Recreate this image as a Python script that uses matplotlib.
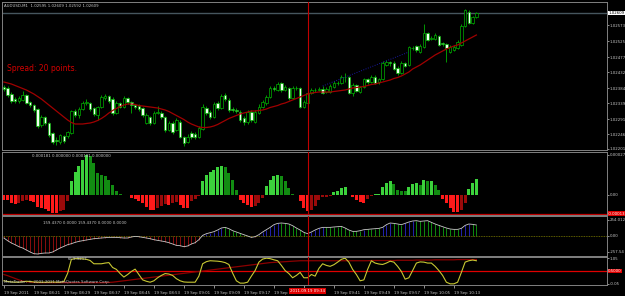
import numpy as np
import matplotlib
matplotlib.use("Agg")
import matplotlib.pyplot as plt

W, H = 625, 296

# price data, in points above 1.02000 (1 point = 0.00001)
open_pts = [387, 384, 366, 351, 345, 348, 363, 342, 333, 321,
            273, 297, 279, 249, 228, 222, 240, 240, 249, 315,
            303, 321, 339, 339, 324, 303, 327, 354, 360, 351,
            309, 339, 327, 354, 342, 333, 330, 324, 279, 297,
            279, 309, 309, 297, 258, 279, 258, 282, 237, 222,
            249, 246, 237, 261, 324, 312, 297, 339, 324, 363,
            348, 321, 318, 312, 294, 282, 312, 282, 309, 327,
            339, 357, 384, 378, 399, 378, 384, 354, 384, 384,
            327, 339, 369, 378, 378, 381, 372, 372, 387, 399,
            399, 417, 417, 369, 393, 372, 387, 411, 402, 417,
            402, 411, 453, 462, 459, 444, 429, 459, 453, 504,
            510, 492, 507, 549, 531, 531, 540, 519, 516, 492,
            498, 504, 513, 570, 612, 579, 597]
close_pts = [381, 363, 345, 345, 354, 363, 339, 333, 318, 270,
             297, 279, 243, 222, 225, 243, 225, 252, 315, 303,
             321, 339, 342, 321, 306, 327, 357, 360, 345, 309,
             339, 327, 354, 342, 333, 327, 321, 303, 303, 279,
             309, 312, 297, 258, 279, 252, 288, 237, 219, 237,
             237, 237, 264, 327, 309, 297, 336, 324, 360, 351,
             318, 318, 315, 288, 282, 312, 288, 312, 327, 342,
             357, 384, 381, 396, 378, 387, 354, 384, 384, 327,
             342, 369, 378, 378, 381, 369, 381, 390, 399, 399,
             417, 417, 369, 393, 375, 387, 411, 402, 417, 399,
             411, 459, 462, 459, 441, 429, 459, 450, 507, 504,
             498, 510, 549, 528, 534, 543, 513, 516, 504, 507,
             507, 522, 570, 618, 579, 597, 609]
high_pts = [393, 390, 372, 357, 360, 375, 366, 345, 336, 324,
            303, 300, 282, 252, 237, 246, 243, 255, 318, 321,
            327, 345, 351, 342, 327, 330, 363, 366, 363, 357,
            345, 342, 360, 357, 345, 336, 336, 327, 309, 300,
            315, 330, 315, 300, 285, 285, 294, 288, 240, 246,
            255, 252, 270, 336, 330, 318, 342, 345, 366, 369,
            354, 327, 324, 318, 300, 318, 318, 318, 336, 348,
            363, 390, 390, 402, 402, 393, 387, 390, 390, 387,
            348, 375, 384, 384, 387, 390, 387, 396, 405, 405,
            423, 429, 420, 399, 396, 390, 414, 414, 423, 423,
            414, 465, 468, 465, 465, 450, 465, 462, 510, 510,
            513, 516, 576, 552, 540, 549, 543, 522, 519, 513,
            513, 528, 576, 621, 618, 600, 612]
low_pts = [375, 357, 339, 339, 339, 345, 336, 327, 312, 264,
           267, 273, 237, 216, 213, 216, 219, 234, 246, 297,
           294, 318, 333, 315, 300, 288, 324, 348, 339, 303,
           306, 324, 324, 336, 309, 321, 315, 297, 276, 273,
           276, 306, 291, 252, 255, 246, 255, 234, 210, 219,
           231, 231, 234, 258, 303, 291, 294, 318, 321, 345,
           312, 312, 309, 282, 273, 276, 282, 279, 306, 324,
           333, 354, 375, 375, 372, 375, 348, 351, 378, 324,
           324, 336, 366, 372, 375, 366, 369, 369, 384, 393,
           396, 402, 366, 360, 372, 369, 384, 396, 399, 396,
           396, 408, 450, 450, 438, 423, 426, 447, 450, 498,
           492, 489, 504, 525, 528, 528, 510, 510, 462, 489,
           495, 501, 510, 567, 576, 576, 594]
ma_pts = [402, 399, 396, 391.5, 387, 382.5, 378, 372, 366, 358.5,
          351, 342, 333, 324, 315, 306, 297, 288, 280.5, 276,
          276, 276, 277.5, 279, 282, 286.5, 292.5, 300, 309, 316.5,
          322.5, 328.5, 333, 336, 336, 334.5, 331.5, 330, 328.5, 327,
          325.5, 324, 321, 318, 313.5, 307.5, 301.5, 295.5, 289.5, 282,
          276, 271.5, 267, 265.5, 265.5, 267, 270, 274.5, 280.5, 286.5,
          292.5, 297, 301.5, 306, 309, 312, 315, 315, 316.5, 318,
          321, 325.5, 328.5, 331.5, 336, 339, 343.5, 348, 352.5, 357,
          361.5, 366, 369, 370.5, 372, 372, 372, 372, 373.5, 375,
          376.5, 378, 381, 384, 385.5, 387, 388.5, 391.5, 394.5, 396,
          399, 402, 405, 408, 412.5, 415.5, 420, 426, 432, 441,
          447, 453, 460.5, 468, 475.5, 483, 489, 495, 501, 505.5,
          510, 513, 519, 525, 531, 537, 543]

# histogram indicator, in units of 0.000001
hist_vals = [-34, -39, -57, -64, -57, -41, -34, -41, -50, -86,
             -91, -98, -109, -125, -125, -113, -102, -45, 91, 154,
             193, 238, 272, 261, 216, 148, 136, 125, 102, 68,
             27, 5, -5, -2, -23, -27, -41, -57, -86, -102,
             -102, -91, -79, -64, -68, -57, -50, -73, -91, -91,
             -45, -27, -7, 91, 136, 154, 168, 188, 193, 188,
             148, 102, 34, -34, -57, -73, -86, -79, -57, -23,
             57, 98, 125, 136, 125, 91, 45, 5, -4, -45,
             -91, -113, -102, -75, -34, -18, -14, -11, 16, 27,
             45, 50, -2, -18, -39, -50, -57, -30, -11, 5,
             7, 50, 82, 91, 73, 34, 27, 23, 50, 73,
             79, 68, 98, 91, 91, 64, 34, -27, -57, -91,
             -120, -120, -102, -57, 41, 79, 107]

osc_vals = [-37, -80, -117, -144, -176, -197, -229, -261, -288, -293,
            -283, -277, -277, -261, -229, -197, -171, -144, -128, -107,
            -91, -80, -69, -59, -48, -43, -37, -32, -27, -27,
            -27, -32, -37, -37, -21, -11, -16, -27, -37, -48,
            -64, -75, -85, -96, -112, -133, -155, -160, -176, -165,
            -133, -112, -64, 5, 32, 48, 64, 91, 123, 133,
            112, 80, 59, 37, 16, -5, -27, -16, 16, 59,
            96, 133, 176, 197, 203, 197, 187, 160, 123, 91,
            53, 32, 59, 91, 117, 133, 133, 133, 139, 144,
            149, 123, 91, 69, 69, 80, 96, 101, 107, 112,
            117, 133, 176, 203, 197, 187, 176, 197, 219, 235,
            240, 229, 235, 240, 213, 187, 165, 144, 123, 107,
            101, 101, 117, 165, 187, 181, 171]

stoch_main = [0.08, 0.05, 0.03, 0.02, 0.02, 0.04, 0.06, 0.05, 0.03, 0.02,
              0.02, 0.02, 0.02, 0.03, 0.02, 0.02, 0.05, 0.40, 1.00, 1.03,
              1.03, 1.02, 1.00, 0.95, 0.81, 0.81, 0.81, 0.84, 0.86, 0.65,
              0.57, 0.39, 0.24, 0.35, 0.48, 0.58, 0.35, 0.12, 0.06, 0.02,
              0.08, 0.21, 0.31, 0.39, 0.37, 0.31, 0.17, 0.08, 0.03, 0.02,
              0.02, 0.02, 0.28, 0.81, 0.90, 0.94, 0.93, 0.92, 0.90, 0.86,
              0.78, 0.41, 0.08, -0.02, -0.02, 0.02, 0.28, 0.52, 0.88, 1.01,
              1.05, 1.03, 0.98, 0.94, 0.74, 0.52, 0.39, 0.21, 0.31, 0.44,
              0.21, 0.21, 0.35, 0.28, 0.61, 0.81, 0.74, 0.70, 0.77, 0.88,
              1.00, 1.05, 0.88, 0.57, 0.35, 0.08, 0.12, 0.57, 0.94, 0.84,
              0.80, 0.78, 0.84, 0.92, 0.88, 0.70, 0.48, 0.15, 0.21, 0.52,
              0.84, 0.89, 0.88, 0.84, 0.84, 0.70, 0.52, 0.31, 0.02, -0.05,
              -0.05, 0.02, 0.44, 0.88, 0.94, 0.97, 0.94]
stoch_signal = [0.35, 0.30, 0.24, 0.18, 0.12, 0.07, 0.04, 0.02, 0.01, 0.00,
                0.00, 0.00, 0.00, 0.00, 0.00, 0.00, 0.00, 0.00, 0.00, 0.00,
                0.00, 0.00, 0.00, 0.00, 0.00, 0.00, 0.00, 0.00, 0.01, 0.02,
                0.04, 0.06, 0.08, 0.10, 0.12, 0.14, 0.16, 0.18, 0.20, 0.22,
                0.24, 0.26, 0.28, 0.30, 0.32, 0.34, 0.36, 0.38, 0.40, 0.42,
                0.44, 0.46, 0.48, 0.50, 0.52, 0.54, 0.56, 0.58, 0.60, 0.62,
                0.64, 0.66, 0.68, 0.70, 0.72, 0.74, 0.76, 0.78, 0.80, 0.82,
                0.84, 0.86, 0.87, 0.88, 0.89, 0.90, 0.91, 0.92, 0.93, 0.94,
                0.94, 0.94, 0.94, 0.94, 0.94, 0.94, 0.94, 0.94, 0.94, 0.94,
                0.94, 0.94, 0.94, 0.94, 0.94, 0.94, 0.94, 0.94, 0.95, 0.95,
                0.95, 0.95, 0.95, 0.95, 0.95, 0.96, 0.96, 0.96, 0.96, 0.96,
                0.97, 0.97, 0.97, 0.97, 0.97, 0.98, 0.98, 0.98, 0.98, 0.98,
                0.98, 0.99, 0.99, 0.99, 0.99, 0.99, 0.99]

price_ticks = [1.02573, 1.02525, 1.02477, 1.02432, 1.02384,
               1.02339, 1.02291, 1.02246, 1.02201]
last_price = 1.02609
trend_bars = [85, 108]
trend_pts = [390, 492]
# the 09:25 label is mostly hidden behind the cursor box, 09:33 fully
time_labels = ["19 Sep 2011", "19 Sep 08:21", "19 Sep 08:29", "19 Sep 08:37",
               "19 Sep 08:45", "19 Sep 08:53", "19 Sep 09:01", "19 Sep 09:09",
               "19 Sep 09:17", "19 Sep", "", "19 Sep 09:41",
               "19 Sep 09:49", "19 Sep 09:57", "19 Sep 10:05", "19 Sep 10:13"]
cursor_bar = 81
cursor_label = "2011.09.19 09:34"

BG = "#000000"
FRAME = "#808080"
TXT = "#c8c8c8"
GREEN = "#00b000"
FS = 2.8

fig = plt.figure(figsize=(W / 100, H / 100), dpi=100, facecolor=BG)


def px_axes(x0, y0, x1, y1):
    a = fig.add_axes([x0 / W, 1 - y1 / H, (x1 - x0) / W, (y1 - y0) / H])
    a.set_facecolor(BG)
    for s in a.spines.values():
        s.set_color(FRAME)
        s.set_linewidth(0.7)
    a.set_xlim(-0.5, -0.5 + (x1 - x0) / 3.75)
    a.yaxis.tick_right()
    a.tick_params(axis="x", bottom=False, labelbottom=False)
    a.tick_params(axis="y", colors=TXT, labelsize=FS, length=1.2, width=0.5, pad=0.6)
    return a


def right_box(a, y, text, fc, tc):
    a.text(1.002, y, text, transform=a.get_yaxis_transform(), fontsize=FS,
           color=tc, va="center", ha="left",
           bbox=dict(boxstyle="square,pad=0.12", fc=fc, ec="none"))


idx = np.arange(len(open_pts))
o = 1.02 + np.array(open_pts) / 1e5
c = 1.02 + np.array(close_pts) / 1e5
hi = 1.02 + np.array(high_pts) / 1e5
lo = 1.02 + np.array(low_pts) / 1e5
ma = 1.02 + np.array(ma_pts) / 1e5

# ---- main price window ----
ax = px_axes(2, 2, 607, 150)
ax.set_ylim(1.02198, 1.02642)
ax.axhline(last_price, color="#46565e", lw=1.0, zorder=1)
ax.vlines(idx, lo, hi, color=GREEN, lw=0.6, zorder=2)
bear = c < o
ax.bar(idx, np.maximum(np.abs(c - o), 0.000006), bottom=np.minimum(o, c),
       width=0.62, color=np.where(bear, "#f0fff0", "#000000"),
       edgecolor=GREEN, linewidth=0.5, zorder=3)
ax.plot(idx, ma, color="#a00000", lw=0.9, zorder=4)
ax.plot(trend_bars, 1.02 + np.array(trend_pts) / 1e5, color="#1a1aa0",
        lw=0.7, ls=(0, (1, 1.5)), zorder=4)
ax.set_yticks(price_ticks)
ax.set_yticklabels([f"{v:.5f}" for v in price_ticks])
right_box(ax, last_price, f"{last_price:.5f}", "white", "black")
ax.text(0.003, 0.975, "AUDUSD,M1  1.02595 1.02609 1.02592 1.02609",
        transform=ax.transAxes, fontsize=FS, color=TXT, va="center")
ax.text(0.008, 0.55, "Spread: 20 points.", transform=ax.transAxes,
        fontsize=5.5, color="#d40000", va="center")

# ---- histogram window ----
ax2 = px_axes(2, 152, 607, 215)
ax2.set_ylim(-138, 290)
hv = np.array(hist_vals)
prev = np.r_[hv[0], hv[:-1]]
cols = np.where(hv >= 0,
                np.where(hv >= prev, "#3cd23c", "#128c12"),
                np.where(hv <= prev, "#ff1a1a", "#9a0a0a"))
ax2.bar(idx, hv, width=0.85, color=cols, linewidth=0)
ax2.axhline(-129, color="#c00000", lw=0.9)
ax2.set_yticks([272, 0])
ax2.set_yticklabels(["0.00027", "0.00"])
right_box(ax2, -129, "-0.00013", "#e00000", "white")
ax2.text(0.05, 0.93, "0.000181 0.000000 0.000181 0.000000",
         transform=ax2.transAxes, fontsize=FS, color=TXT, va="center")

# ---- oscillator window ----
ax3 = px_axes(2, 216, 607, 256)
ax3.set_ylim(-325, 315)
ov = np.array(osc_vals)
dv = np.r_[0, np.diff(ov)]
ocols = np.where(ov < 0, "#a01010", np.where(dv > 15, "#2828c8", "#10a010"))
ax3.vlines(idx, 0, ov, colors=ocols, lw=0.6)
ax3.axhline(0, color="#808000", lw=0.6, ls=(0, (1, 1)))
ax3.plot(idx, ov, color="#c8c8c8", lw=0.6)
ax3.set_yticks([254.0122, 0, -257.545])
ax3.set_yticklabels(["254.012", "0.00", "-257.54"])
ax3.text(0.068, 0.83, "159.4370 0.0000 159.4370 0.0000 0.0000",
         transform=ax3.transAxes, fontsize=FS, color=TXT, va="center")

# ---- stochastic window ----
ax4 = px_axes(2, 257, 607, 285)
ax4.set_ylim(-0.1, 1.1)
ax4.axhline(0.5, color="#e00000", lw=0.9)
ax4.plot(idx, stoch_signal, color="#8c0000", lw=0.9)
ax4.plot(idx, stoch_main, color="#c8c832", lw=0.8)
ax4.set_yticks([1.05, -0.05])
ax4.set_yticklabels(["1.05", "-0.05"])
right_box(ax4, 0.5, "0.5000", "#e00000", "white")
ax4.text(0.109, 0.93, "65.9.9217", transform=ax4.transAxes, fontsize=FS,
         color=TXT, va="center")
ax4.text(0.003, 0.12, "MetaTrader, \u00a9 2001-2011 MetaQuotes Software Corp.",
         transform=ax4.transAxes, fontsize=FS, color=TXT, va="center")
ax4.set_xticks(range(0, 8 * len(time_labels), 8))
ax4.set_xticklabels(time_labels)
ax4.tick_params(axis="x", bottom=True, labelbottom=True, colors=TXT,
                labelsize=FS, length=2, width=0.5, pad=2)
for lab in ax4.get_xticklabels():
    lab.set_ha("left")
ax4.annotate(cursor_label, xy=(cursor_bar, 0), xycoords=("data", "axes fraction"),
             xytext=(0, -4.5), textcoords="offset points", fontsize=FS,
             color="white", ha="center", va="center", zorder=10,
             bbox=dict(boxstyle="square,pad=0.2", fc="#e00000", ec="none"))

for a in (ax, ax2, ax3, ax4):
    a.axvline(cursor_bar, color="#c00000", lw=0.8, zorder=5)

fig.savefig("out.png", dpi=100, facecolor=BG)
